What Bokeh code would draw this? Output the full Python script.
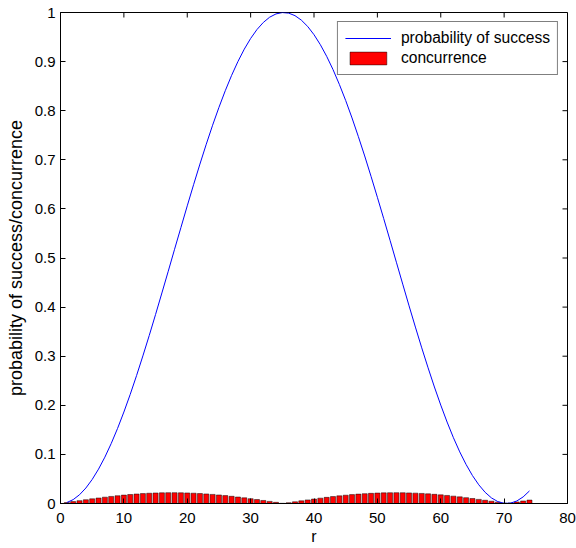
import math
from bokeh.plotting import figure
from bokeh.models import Range1d, FixedTicker, Legend, LegendItem
from bokeh.embed import file_html
from bokeh.resources import INLINE

# r values (iterations)
r = list(range(1, 75))

# probability of success
probability = [
    0.0020, 0.0079, 0.0178, 0.0315, 0.0490, 0.0700, 0.0944, 0.1221, 0.1528, 0.1863,
    0.2222, 0.2605, 0.3006, 0.3421, 0.3850, 0.4288, 0.4730, 0.5178, 0.5620, 0.6062,
    0.6493, 0.6913, 0.7317, 0.7704, 0.8068, 0.8407, 0.8720, 0.9002, 0.9254, 0.9471,
    0.9653, 0.9797, 0.9904, 0.9971, 0.9999, 0.9987, 0.9936, 0.9845, 0.9716, 0.9548,
    0.9345, 0.9107, 0.8838, 0.8536, 0.8207, 0.7852, 0.7472, 0.7078, 0.6663, 0.6236,
    0.5802, 0.5360, 0.4914, 0.4468, 0.4025, 0.3593, 0.3170, 0.2764, 0.2373, 0.2004,
    0.1659, 0.1340, 0.1051, 0.0794, 0.0569, 0.0381, 0.0228, 0.0114, 0.0039, 0.0003,
    0.0007, 0.0051, 0.0134, 0.0256,
]

# concurrence (bar heights)
concurrence = [
    0.0020, 0.0039, 0.0058, 0.0077, 0.0095, 0.0112, 0.0129, 0.0144, 0.0158, 0.0171,
    0.0183, 0.0193, 0.0202, 0.0209, 0.0214, 0.0218, 0.0220, 0.0220, 0.0218, 0.0215,
    0.0210, 0.0203, 0.0195, 0.0185, 0.0174, 0.0161, 0.0147, 0.0132, 0.0116, 0.0098,
    0.0081, 0.0062, 0.0043, 0.0024, 0.0004, 0.0016, 0.0035, 0.0054, 0.0073, 0.0091,
    0.0109, 0.0125, 0.0141, 0.0156, 0.0169, 0.0181, 0.0191, 0.0200, 0.0207, 0.0213,
    0.0217, 0.0219, 0.0220, 0.0219, 0.0216, 0.0211, 0.0205, 0.0197, 0.0187, 0.0176,
    0.0164, 0.0150, 0.0135, 0.0119, 0.0102, 0.0084, 0.0066, 0.0047, 0.0027, 0.0008,
    0.0012, 0.0031, 0.0051, 0.0070,
]

x_ticks = [0, 10, 20, 30, 40, 50, 60, 70, 80]
x_tick_labels = ["0", "10", "20", "30", "40", "50", "60", "70", "80"]
y_ticks = [0, 0.1, 0.2, 0.3, 0.4, 0.5, 0.6, 0.7, 0.8, 0.9, 1]
y_tick_labels = ["0", "0.1", "0.2", "0.3", "0.4", "0.5", "0.6", "0.7", "0.8", "0.9", "1"]

X_MIN, X_MAX = 0, 80
Y_MIN, Y_MAX = 0, 1
FONT = "Liberation Sans"

p = figure(width=576, height=548, output_backend="svg", toolbar_location=None,
           x_range=Range1d(X_MIN, X_MAX), y_range=Range1d(Y_MIN, Y_MAX),
           min_border_left=60, min_border_right=9, min_border_top=12, min_border_bottom=45,
           background_fill_color="white", border_fill_color="white")
p.grid.visible = False
p.outline_line_color = "black"
p.outline_line_width = 1

bars = p.vbar(x=r, top=concurrence, width=0.8, bottom=0,
              fill_color="#ff0000", line_color="black", line_width=0.6, line_alpha=0.8)
line = p.line(x=r, y=probability, line_color="#0000ff", line_width=1)

# inward ticks on the top and right edges (box style)
p.ray(x=x_ticks, y=[Y_MAX] * len(x_ticks), length=5, length_units="screen",
      angle=-math.pi / 2, line_color="black", line_width=1)
p.ray(x=[X_MAX] * len(y_ticks), y=y_ticks, length=5, length_units="screen",
      angle=math.pi, line_color="black", line_width=1)

def style_axis(ax, ticks, labels):
    ax.ticker = FixedTicker(ticks=ticks)
    ax.major_label_overrides = {t: l for t, l in zip(ticks, labels)}
    ax.axis_line_color = "black"
    ax.major_tick_line_color = "black"
    ax.major_tick_in = 5
    ax.major_tick_out = 0
    ax.minor_tick_line_color = None
    ax.major_label_text_font = FONT
    ax.major_label_text_color = "black"
    ax.major_label_text_font_size = "15px"
    ax.axis_label_text_font = FONT
    ax.axis_label_text_font_style = "normal"
    ax.axis_label_text_color = "black"

style_axis(p.xaxis[0], x_ticks, x_tick_labels)
style_axis(p.yaxis[0], y_ticks, y_tick_labels)
p.xaxis[0].axis_label = "r"
p.xaxis[0].axis_label_text_font_size = "16px"
p.xaxis[0].major_label_standoff = 9
p.xaxis[0].axis_label_standoff = 2
p.yaxis[0].axis_label = "probability of success/concurrence"
p.yaxis[0].axis_label_text_font_size = "18px"
p.yaxis[0].major_label_standoff = 5
p.yaxis[0].axis_label_standoff = 6

legend = Legend(items=[
    LegendItem(label="probability of success", renderers=[line]),
    LegendItem(label="concurrence", renderers=[bars]),
], location="top_right")
legend.label_text_font = FONT
legend.label_text_font_size = "15.6px"
legend.label_text_color = "black"
legend.border_line_color = "black"
legend.border_line_width = 1
legend.background_fill_color = "white"
legend.background_fill_alpha = 1
legend.glyph_width = 46
legend.glyph_height = 16
legend.label_standoff = 10
legend.label_height = 18
legend.padding = 7
legend.spacing = 2
legend.margin = 9
p.add_layout(legend, "center")

open("out.html", "w").write(file_html(p, INLINE))
